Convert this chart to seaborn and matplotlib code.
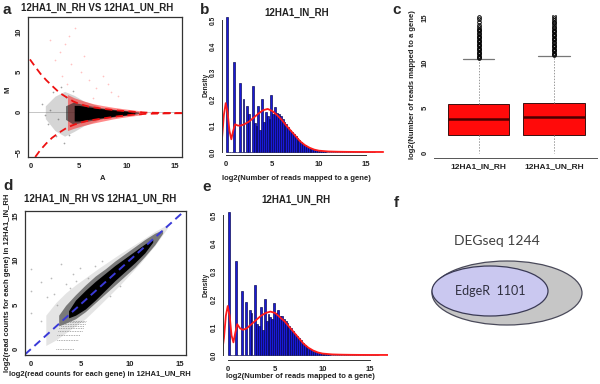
import matplotlib
matplotlib.use("Agg")
import matplotlib.pyplot as plt
from matplotlib.patches import Ellipse
import numpy as np
import pandas as pd
import seaborn as sns

# ---------------- panel a : MA plot ----------------
ma_up_A = [-0.1, 0.5, 1.0, 1.6, 2.2, 3.0, 3.8, 4.4, 5.0, 6.0, 7.5, 9.0, 10.5, 12.0, 14.0, 15.7]
ma_up_M = [6.6, 5.6, 4.8, 4.0, 3.3, 2.4, 1.8, 1.35, 1.05, 0.7, 0.42, 0.22, 0.06, -0.05, -0.1, -0.12]
ma_lo_A = [0.45, 1.0, 1.6, 2.2, 3.0, 3.8, 4.4, 5.0, 6.0, 7.5, 9.0, 10.5, 12.0, 14.0, 15.7]
ma_lo_M = [-5.6, -4.7, -3.9, -3.2, -2.5, -1.9, -1.6, -1.35, -1.05, -0.78, -0.52, -0.32, -0.2, -0.15, -0.12]

halo_A = [1.5, 2.5, 3.5, 4.5, 5.5, 7.0]
halo_hi = [0.8, 2.0, 2.6, 2.1, 1.4, 0.8]
halo_lo = [-0.8, -2.3, -3.0, -2.4, -1.7, -1.0]
red_A = [3.8, 4.5, 5.5, 6.5, 7.5, 8.5, 9.5, 10.5, 11.5]
red_hi = [2.2, 1.8, 1.4, 1.05, 0.82, 0.62, 0.45, 0.3, 0.15]
red_lo = [-2.3, -2.0, -1.65, -1.35, -1.1, -0.85, -0.65, -0.48, -0.32]
mid_A = [3.6, 4.4, 5.5, 6.5, 7.5, 8.5, 9.5, 10.5, 11.2]
mid_hi = [0.8, 1.25, 0.95, 0.72, 0.52, 0.38, 0.26, 0.14, 0.0]
mid_lo = [-0.9, -1.5, -1.2, -0.98, -0.78, -0.6, -0.45, -0.3, -0.16]
core_A = [4.5, 5.0, 6.0, 7.0, 8.0, 9.0, 10.0, 10.8]
core_hi = [0.85, 0.85, 0.65, 0.48, 0.36, 0.24, 0.12, 0.0]
core_lo = [-1.1, -1.1, -0.9, -0.75, -0.6, -0.45, -0.32, -0.18]
ma_red_pts_A = [2.5, 3.0, 3.5, 4.0, 4.6, 5.2, 6.0, 6.8, 7.5, 8.3, 9.0, 3.2, 4.2, 5.5, 6.5, 8.0, 2.0, 3.8]
ma_red_pts_M = [6.5, 7.5, 8.5, 9.5, 10.5, 5.0, 4.0, 3.0, 4.5, 2.5, 2.0, 4.5, 6.0, 7.0, 1.8, 3.5, 9.0, 3.5]
ma_blk_pts_A = [1.2, 1.8, 2.3, 2.6, 3.1, 3.4, 2.0, 2.8, 3.6, 1.5, 4.0, 4.4]
ma_blk_pts_M = [1.0, -1.5, 2.5, -3.0, 3.2, -3.8, 0.3, -0.8, 1.9, -0.3, -2.9, 2.7]

# ---------------- panels b / e : histograms, bins of 0.2 from 0 to 16 ----------------
bin_left = np.round(np.arange(80) * 0.2, 1)
hist_in = [0.51, 0, 0, 0, 0.34, 0, 0, 0.26, 0, 0.20,
           0, 0.175, 0.145, 0, 0.25, 0.11, 0.10, 0.175, 0.085, 0.20,
           0.115, 0.15, 0.135, 0.125, 0.215, 0.145, 0.17, 0.148, 0.145, 0.135,
           0.125, 0.115, 0.105, 0.095, 0.085, 0.076, 0.068, 0.06, 0.052, 0.044,
           0.037, 0.031, 0.025, 0.02, 0.016, 0.012, 0.0095, 0.0075, 0.006, 0.0045,
           0.0035, 0.003, 0.0025, 0.002, 0.0015, 0.0012, 0.001, 0.0008, 0.0006, 0.0005,
           0.0004, 0.0003, 0.0003, 0.0002, 0.0002, 0.0001, 0.0001, 0.0001, 0, 0,
           0, 0, 0, 0, 0, 0, 0, 0, 0, 0]
hist_un = [0.51, 0, 0, 0, 0.335, 0, 0, 0.23, 0, 0.19,
           0, 0.16, 0.15, 0, 0.25, 0.11, 0.105, 0.17, 0.09, 0.20,
           0.12, 0.145, 0.135, 0.13, 0.185, 0.15, 0.16, 0.14, 0.14, 0.13,
           0.122, 0.113, 0.104, 0.095, 0.085, 0.076, 0.068, 0.06, 0.052, 0.044,
           0.037, 0.031, 0.025, 0.02, 0.016, 0.012, 0.0095, 0.0075, 0.006, 0.0045,
           0.0035, 0.003, 0.0025, 0.002, 0.0015, 0.0012, 0.001, 0.0008, 0.0006, 0.0005,
           0.0004, 0.0003, 0.0003, 0.0002, 0.0002, 0.0001, 0.0001, 0.0001, 0, 0,
           0, 0, 0, 0, 0, 0, 0, 0, 0, 0]
dens_x = [-0.6, -0.4, -0.2, 0.0, 0.2, 0.4, 0.6, 0.8, 1.0, 1.3, 1.6, 2.0, 2.5, 3.0, 3.5,
          4.0, 4.5, 5.0, 5.5, 6.0, 6.5, 7.0, 7.5, 8.0, 8.5, 9.0, 9.5, 10.0, 11.0, 12.0,
          13.0, 14.0, 15.0, 16.9]
dens_in = [0.01, 0.05, 0.14, 0.185, 0.15, 0.08, 0.048, 0.08, 0.105, 0.10, 0.10, 0.105,
           0.115, 0.13, 0.145, 0.158, 0.163, 0.155, 0.14, 0.122, 0.10, 0.08, 0.06, 0.04,
           0.026, 0.016, 0.009, 0.005, 0.002, 0.001, 0.0005, 0.0002, 0.0001, 0]
dens_un = [0.01, 0.06, 0.14, 0.175, 0.14, 0.07, 0.045, 0.08, 0.11, 0.095, 0.09, 0.095,
           0.11, 0.125, 0.14, 0.15, 0.155, 0.15, 0.135, 0.12, 0.10, 0.08, 0.06, 0.04,
           0.026, 0.016, 0.009, 0.005, 0.002, 0.001, 0.0005, 0.0002, 0.0001, 0]

# ---------------- panel c : boxplot summaries ----------------
box_labels = ["12HA1_IN_RH", "12HA1_UN_RH"]
box_q1 = [2.0, 2.0]
box_med = [3.75, 3.95]
box_q3 = [5.4, 5.6]
box_lo = [0.0, 0.0]
box_hi = [10.4, 10.75]
out_in = [10.5, 10.65, 10.8, 10.95, 11.1, 11.25, 11.4, 11.55, 11.7, 11.85, 12.0, 12.15,
          12.3, 12.45, 12.6, 12.75, 12.9, 13.05, 13.2, 13.35, 13.5, 13.65, 13.8, 13.95,
          14.2, 14.5, 14.9, 15.1]
out_un = [10.85, 11.0, 11.15, 11.3, 11.45, 11.6, 11.75, 11.9, 12.05, 12.2, 12.35, 12.5,
          12.65, 12.8, 12.95, 13.1, 13.25, 13.4, 13.55, 13.7, 13.85, 14.0, 14.2, 14.4,
          14.6, 14.8, 15.0, 15.2]

# ---------------- panel d : scatter IN vs UN ----------------
d_halo_x = [1.5, 2.5, 3.5, 4.5, 5.5, 7.0, 9.0, 11.0, 12.5, 13.8]
d_halo_hi = [3.8, 5.2, 6.3, 7.2, 8.0, 9.2, 10.7, 12.1, 13.2, 14.0]
d_halo_lo = [0.4, 1.0, 1.8, 2.6, 3.4, 5.0, 7.2, 9.6, 11.6, 13.6]
d_mid_x = [2.8, 3.5, 4.5, 5.5, 6.5, 7.5, 8.5, 9.5, 10.5, 11.5, 12.5, 13.3]
d_mid_hi = [3.8, 4.9, 6.1, 7.2, 8.2, 9.0, 9.9, 10.7, 11.5, 12.3, 13.0, 13.4]
d_mid_lo = [2.6, 2.9, 3.4, 4.2, 5.2, 6.2, 7.2, 8.2, 9.2, 10.4, 11.7, 13.0]
d_core_x = [3.8, 4.5, 5.5, 6.5, 7.5, 8.5, 9.5, 10.5, 11.5, 12.3]
d_core_hi = [4.3, 5.5, 6.6, 7.6, 8.5, 9.4, 10.2, 11.0, 11.8, 12.3]
d_core_lo = [3.5, 3.8, 4.5, 5.5, 6.6, 7.7, 8.7, 9.7, 10.8, 12.0]
d_row_y = [0.0, 1.0, 1.58, 2.0, 2.32, 2.58, 2.81, 3.0, 3.17]
d_row_x0 = [2.5, 2.6, 2.6, 2.7, 2.8, 3.0, 3.0, 3.2, 3.3]
d_row_x1 = [4.3, 4.8, 5.0, 5.2, 5.3, 5.4, 5.5, 5.5, 5.6]
d_pts_x = [0.0, 0.0, 0.0, 1.0, 1.0, 1.6, 2.0, 2.3, 3.0, 3.5, 4.2, 5.0, 5.8, 6.5, 7.2, 8.0, 9.0, 2.6, 4.6, 3.9]
d_pts_y = [9.0, 6.5, 4.0, 7.5, 3.2, 5.8, 8.0, 6.2, 9.5, 7.3, 8.4, 9.1, 8.0, 9.3, 9.9, 6.0, 7.1, 4.9, 7.6, 6.8]

# ---------------- panel f : Venn counts ----------------
venn_outer = "DEGseq 1244"
venn_inner = "EdgeR  1101"

sns.set_theme(style="white")
plt.rcParams["font.family"] = ["Liberation Sans", "DejaVu Sans"]
plt.rcParams["axes.linewidth"] = 0.7

W, H = 600, 384
fig = plt.figure(figsize=(6, 3.84), dpi=100)


def rect(l, t, r, b):
    return [l / W, 1 - b / H, (r - l) / W, (b - t) / H]


def ftext(x, y, s, **kw):
    kw.setdefault("ha", "center")
    kw.setdefault("va", "center")
    fig.text(x / W, 1 - y / H, s, **kw)


TICK = 5.5
LAB = 5.5


def style_ticks(ax, rot_y=True):
    ax.tick_params(axis="both", which="both", direction="out", length=2.5, width=0.6,
                   labelsize=TICK, pad=1.5, colors="#222222")
    for t in ax.get_xticklabels() + ax.get_yticklabels():
        t.set_fontweight("bold")
    if rot_y:
        for t in ax.get_yticklabels():
            t.set_rotation(90)
            t.set_va("center")


# ---- a ----
ax = fig.add_axes(rect(28, 17, 182, 157))
ax.axhline(0, color="#bbbbbb", lw=0.6, zorder=1)
ax.fill_between(halo_A, halo_lo, halo_hi, color="#777777", alpha=0.3, lw=0, zorder=2)
ax.fill_between(red_A, red_lo, red_hi, color="#ff1818", alpha=0.5, lw=0, zorder=2)
ax.fill_between(mid_A, mid_lo, mid_hi, color="#222222", alpha=0.6, lw=0, zorder=3)
ax.fill_between(core_A, core_lo, core_hi, color="black", lw=0, zorder=3)
sns.scatterplot(x=ma_red_pts_A, y=ma_red_pts_M, ax=ax, color="#ff5050", s=1.5, alpha=0.35,
                linewidth=0, zorder=2)
sns.scatterplot(x=ma_blk_pts_A, y=ma_blk_pts_M, ax=ax, color="#444444", s=1.5, alpha=0.5,
                linewidth=0, zorder=2)
ax.plot(ma_up_A, ma_up_M, color="#ee1111", lw=1.3, ls=(0, (4, 2.5)), zorder=4)
ax.plot(ma_lo_A, ma_lo_M, color="#ee1111", lw=1.3, ls=(0, (4, 2.5)), zorder=4)
ax.set_xlim(-0.3, 15.7)
ax.set_ylim(-5.6, 11.9)
ax.set_xticks([0, 5, 10, 15])
ax.set_yticks([-5, 0, 5, 10])
for s in ax.spines.values():
    s.set_color("#333333")
    s.set_linewidth(0.9)
style_ticks(ax)


# ---- b / e ----
def hist_panel(box, heights, dens, xlim, ylim):
    ax = fig.add_axes(box)
    df = pd.DataFrame({"x": bin_left + 0.1, "w": heights})
    sns.histplot(data=df, x="x", weights="w", binwidth=0.2, binrange=(0, 16), ax=ax,
                 stat="count", color="#1a1ad8", edgecolor="#00004a", linewidth=0.45,
                 alpha=1)
    sns.lineplot(x=dens_x, y=dens, ax=ax, color="#ff1a1a", lw=1.3, sort=False)
    ax.set_xlim(*xlim)
    ax.set_ylim(*ylim)
    ax.set_xlabel("")
    ax.set_ylabel("")
    ax.set_xticks([0, 5, 10, 15])
    ax.set_yticks([0, 0.1, 0.2, 0.3, 0.4, 0.5])
    ax.set_yticklabels(["0.0", "0.1", "0.2", "0.3", "0.4", "0.5"])
    ax.spines["top"].set_visible(False)
    ax.spines["right"].set_visible(False)
    ax.spines["left"].set_bounds(0, 0.5)
    ax.spines["bottom"].set_bounds(0, 15)
    for s in ("left", "bottom"):
        ax.spines[s].set_color("#333333")
    style_ticks(ax)
    for t in ax.get_yticklabels():
        t.set_fontsize(4.8)
    return ax


hist_panel(rect(222, 17, 386, 155), hist_in, dens_in, (-0.4, 17.2), (-0.0114, 0.511))
hist_panel(rect(223, 210, 388, 360), hist_un, dens_un, (-0.5, 16.9), (-0.018, 0.518))

# ---- c ----
ax = fig.add_axes(rect(434, 15, 597, 158))
stats = []
for i in range(2):
    stats.append(dict(label=box_labels[i], q1=box_q1[i], med=box_med[i], q3=box_q3[i],
                      whislo=box_lo[i], whishi=box_hi[i],
                      fliers=out_in if i == 0 else out_un))
parts = ax.bxp(stats, positions=[1, 2], widths=0.81, patch_artist=True,
               boxprops=dict(facecolor="#ff0a0a", edgecolor="#3a1010", lw=0.7),
               medianprops=dict(color="#4a0000", lw=1.8),
               whiskerprops=dict(color="#999999", lw=0.7, ls=(0, (1.5, 1.5))),
               capprops=dict(color="#777777", lw=0.9),
               flierprops=dict(marker="o", ms=2.6, mfc="none", mec="black", mew=0.7),
               capwidths=0.42)
parts["caps"][0].set_visible(False)
parts["caps"][2].set_visible(False)
ax.set_xlim(0.41, 2.57)
ax.set_ylim(-0.56, 15.33)
ax.set_yticks([0, 5, 10, 15])
for s in ("top", "right", "left"):
    ax.spines[s].set_visible(False)
ax.spines["bottom"].set_color("#555555")
style_ticks(ax)
for t in ax.get_xticklabels():
    t.set_fontsize(6)

# ---- d ----
ax = fig.add_axes(rect(25, 211, 186, 355))
ax.fill_between(d_halo_x, d_halo_lo, d_halo_hi, color="#888888", alpha=0.22, lw=0)
ax.hlines(d_row_y, d_row_x0, d_row_x1, colors="#777777", lw=0.6, linestyles=(0, (0.8, 1.2)))
sns.scatterplot(x=d_pts_x, y=d_pts_y, ax=ax, color="#777777", s=1.5, alpha=0.5, linewidth=0)
ax.fill_between(d_mid_x, d_mid_lo, d_mid_hi, color="#222222", alpha=0.55, lw=0)
ax.fill_between(d_core_x, d_core_lo, d_core_hi, color="black", lw=0)
ax.axline((0, 0), slope=1, color="#3a3ad8", lw=1.4, ls=(0, (4, 2.5)))
ax.set_xlim(-0.6, 15.66)
ax.set_ylim(-0.67, 15.5)
ax.set_xticks([0, 5, 10, 15])
ax.set_yticks([0, 5, 10, 15])
for s in ax.spines.values():
    s.set_color("#333333")
    s.set_linewidth(0.9)
style_ticks(ax)

# ---- f ----
ax = fig.add_axes(rect(400, 192, 600, 384))
ax.set_xlim(0, 200)
ax.set_ylim(192, 0)
ax.set_axis_off()
ax.add_patch(Ellipse((107, 101), 150, 64, facecolor="#c6c6c6", edgecolor="#4a4a5a", lw=0.9))
ax.add_patch(Ellipse((90, 99), 116, 50, facecolor="#cac8f0", edgecolor="#3a3a55", lw=0.9))
ax.text(97, 49, venn_outer, ha="center", va="center", fontsize=10, color="#404040",
        family=["Lato", "DejaVu Sans"])
ax.text(90, 99, venn_inner, ha="center", va="center", fontsize=9, color="#303040",
        family=["Lato", "DejaVu Sans"])

# ---- texts ----
for letter, x, y in [("a", 7, 10), ("b", 205, 10), ("c", 397, 10),
                     ("d", 8, 186), ("e", 207, 187), ("f", 396, 203)]:
    ftext(x, y, letter, fontsize=11, fontweight="bold")
ftext(97, 8, "12HA1_IN_RH VS 12HA1_UN_RH", fontsize=7, fontweight="bold", color="#222222")
ftext(297, 13, "12HA1_IN_RH", fontsize=7, fontweight="bold", color="#222222")
ftext(100, 199, "12HA1_IN_RH VS 12HA1_UN_RH", fontsize=7, fontweight="bold", color="#222222")
ftext(296, 200, "12HA1_UN_RH", fontsize=7, fontweight="bold", color="#222222")
ftext(103, 179, "A", fontsize=LAB, fontweight="bold", color="#222222")
ftext(296, 178, "log2(Number of reads mapped to a gene)", fontsize=LAB, fontweight="bold", color="#222222")
ftext(100, 375, "log2(read counts for each gene) in 12HA1_UN_RH", fontsize=LAB, fontweight="bold", color="#222222")
ftext(300, 377, "log2(Number of reads mapped to a gene)", fontsize=LAB, fontweight="bold", color="#222222")
ftext(8, 90, "M", fontsize=LAB, fontweight="bold", rotation=90, color="#222222")
ftext(206, 85, "Density", fontsize=4.8, fontweight="bold", rotation=90, color="#222222")
ftext(206, 285, "Density", fontsize=4.8, fontweight="bold", rotation=90, color="#222222")
ftext(413, 85, "log2(Number of reads mapped to a gene)", fontsize=LAB, fontweight="bold", rotation=90, color="#222222")
ftext(8, 283, "log2(read counts for each gene) in 12HA1_IN_RH", fontsize=LAB, fontweight="bold", rotation=90, color="#222222")

fig.savefig("out.png", dpi=100)
